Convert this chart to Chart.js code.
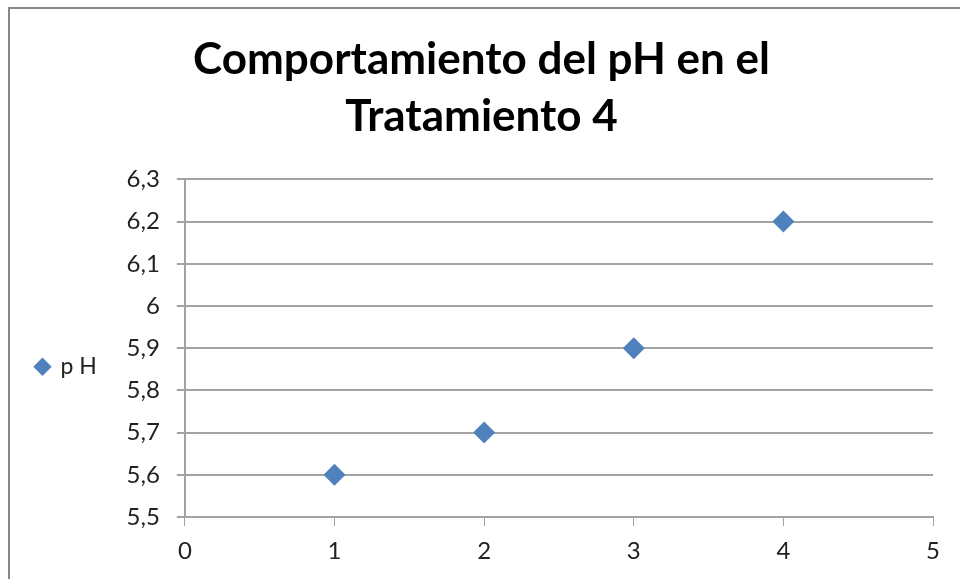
<!DOCTYPE html>
<html>
<head>
<meta charset="utf-8">
<script src="https://cdn.jsdelivr.net/npm/chart.js@4.4.0/dist/chart.umd.min.js"></script>
<style>
  html, body { margin: 0; padding: 0; background: #fff; }
  #wrap { position: relative; width: 960px; height: 579px; overflow: hidden; }
  #frame {
    position: absolute; left: 8px; top: 7px; width: 1000px; height: 700px;
    border-left: 2px solid #878787; border-top: 2px solid #878787;
  }
  #myChart { position: absolute; left: 0; top: 0; }
</style>
</head>
<body>
<div id="wrap">
  <div id="frame"></div>
  <canvas id="myChart" width="960" height="579"></canvas>
</div>
<script>
const tratamiento = [1, 2, 3, 4];
const ph = [5.6, 5.7, 5.9, 6.2];
const yTicks = [5.5, 5.6, 5.7, 5.8, 5.9, 6, 6.1, 6.2, 6.3];
const xTicks = [0, 1, 2, 3, 4, 5];

const fontFam = 'Lato, "Open Sans", sans-serif';
const gridColor = '#a3a3a3';

// comma decimals, "6" stays without ",0"
function fmt(v) {
  return String(Math.round(v * 10) / 10).replace('.', ',');
}

const ctx = document.getElementById('myChart').getContext('2d');
new Chart(ctx, {
  type: 'scatter',
  data: {
    datasets: [{
      label: 'p H',
      data: tratamiento.map((t, i) => ({ x: t, y: ph[i] })),
      pointStyle: 'rectRot',
      pointRadius: 11,
      pointHoverRadius: 11,
      backgroundColor: '#4f81bd',
      borderColor: '#4f81bd',
      borderWidth: 0
    }]
  },
  options: {
    responsive: false,
    animation: false,
    layout: { padding: { left: 30, right: 27, top: 0, bottom: 0 } },
    plugins: {
      tooltip: { enabled: false },
      title: {
        display: true,
        text: ['Comportamiento del pH en el', 'Tratamiento 4'],
        color: '#000',
        font: { family: fontFam, size: 44, weight: 'bold', lineHeight: 1.3 },
        padding: { top: 31, bottom: 34 }
      },
      legend: {
        position: 'left',
        fullSize: false,
        // empty title only pushes the entry a little below centre
        title: { display: true, text: ' ', font: { size: 1 }, padding: { top: 18, bottom: 18 } },
        labels: {
          usePointStyle: true,
          pointStyle: 'rectRot',
          boxWidth: 13,
          boxHeight: 13,
          color: '#222',
          font: { family: fontFam, size: 23 },
          padding: 6
        }
      }
    },
    scales: {
      x: {
        type: 'linear',
        min: 0,
        max: 5,
        afterBuildTicks: axis => { axis.ticks = xTicks.map(v => ({ value: v })); },
        afterFit: axis => { axis.height = 62; },
        grid: { display: true, drawOnChartArea: false, color: gridColor, tickLength: 9 },
        border: { color: gridColor, width: 2 },
        ticks: {
          color: '#222',
          font: { family: fontFam, size: 24 },
          padding: 11,
          callback: v => fmt(v)
        }
      },
      y: {
        min: 5.5,
        max: 6.3,
        afterBuildTicks: axis => { axis.ticks = yTicks.map(v => ({ value: v })); },
        afterFit: axis => { axis.width = 78; },
        grid: { color: gridColor, lineWidth: 2, tickLength: 8 },
        border: { color: gridColor, width: 2 },
        ticks: {
          color: '#222',
          font: { family: fontFam, size: 24 },
          padding: 17,
          callback: v => fmt(v)
        }
      }
    }
  }
});
</script>
</body>
</html>
